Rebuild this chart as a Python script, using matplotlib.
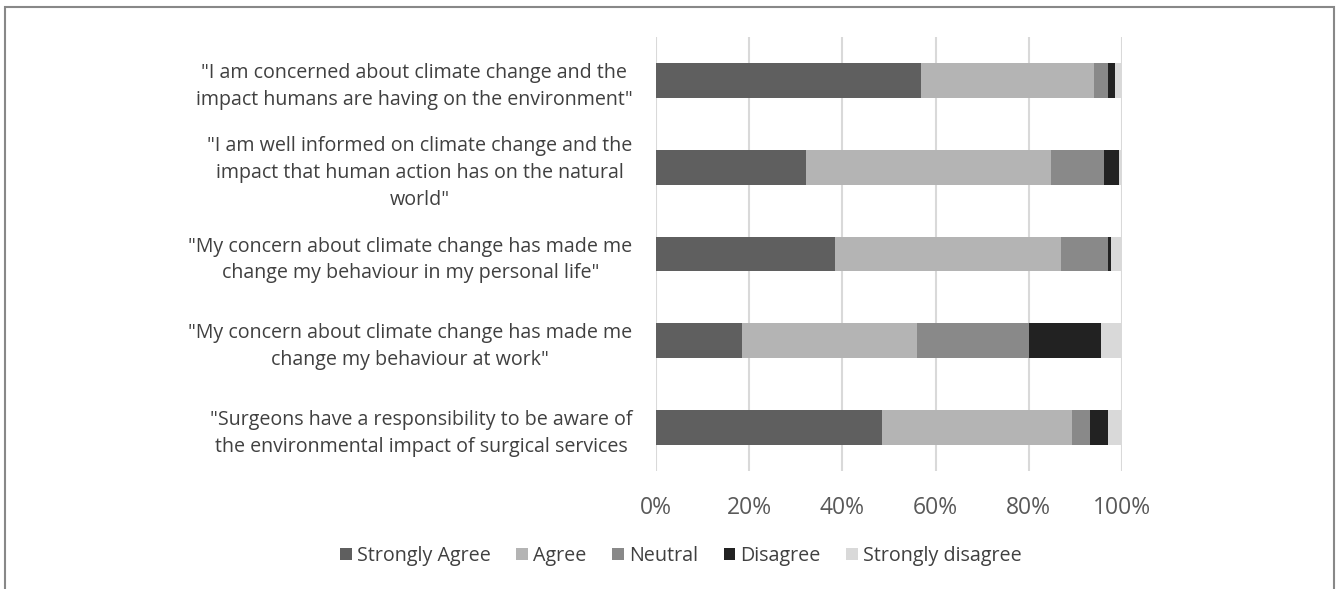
import matplotlib.pyplot as plt
import numpy as np
from matplotlib.patches import Rectangle

plt.rcParams["font.family"] = ["Open Sans", "DejaVu Sans"]

# Statements, top to bottom
STATEMENTS = [
    "\"I am concerned about climate change and the\nimpact humans are having on the environment\"",
    "\"I am well informed on climate change and the\nimpact that human action has on the natural\nworld\"",
    "\"My concern about climate change has made me\nchange my behaviour in my personal life\"",
    "\"My concern about climate change has made me\nchange my behaviour at work\"",
    "\"Surgeons have a responsibility to be aware of\nthe environmental impact of surgical services",
]

RESPONSES = ["Strongly Agree", "Agree", "Neutral", "Disagree", "Strongly disagree"]
COLORS = ["#5f5f5f", "#b4b4b4", "#898989", "#222222", "#d9d9d9"]

# percentages per statement
strongly_agree = [56.9, 32.2, 38.4, 18.4, 48.4]
agree = [37.0, 52.5, 48.6, 37.7, 40.9]
neutral = [3.1, 11.5, 10.0, 23.9, 3.8]
disagree = [1.5, 3.2, 0.7, 15.4, 3.9]
strongly_disagree = [1.5, 0.6, 2.3, 4.6, 3.0]

series = [strongly_agree, agree, neutral, disagree, strongly_disagree]

fig = plt.figure(figsize=(13.36, 5.89), dpi=100)
ax = fig.add_axes([0.491, 0.2003, 0.3488, 0.7367])

y = np.arange(len(STATEMENTS))
left = np.zeros(len(STATEMENTS))
for name, vals, color in zip(RESPONSES, series, COLORS):
    vals = np.array(vals)
    ax.barh(y, vals, left=left, height=0.4, color=color, label=name, zorder=3)
    left += vals

ax.set_xlim(0, 100)
ax.set_ylim(4.5, -0.5)
ax.set_xticks([0, 20, 40, 60, 80, 100])
ax.set_xticklabels(["0%", "20%", "40%", "60%", "80%", "100%"], fontsize=16.5, color="#595959")
ax.set_yticks(y)
ax.set_yticklabels(STATEMENTS, fontsize=14.1, color="#404040", linespacing=1.45)
for lbl in ax.get_yticklabels():
    lbl.set_multialignment("center")
ax.tick_params(axis="both", length=0)
ax.tick_params(axis="x", pad=18)
ax.tick_params(axis="y", pad=17)
for s in ax.spines.values():
    s.set_visible(False)
ax.grid(axis="x", color="#d9d9d9", linewidth=1.5, zorder=0)

handles, labels = ax.get_legend_handles_labels()
fig.legend(handles, labels, loc="center", bbox_to_anchor=(681 / 1336, 1 - 556 / 589),
           ncol=5, frameon=False, fontsize=14.2, handlelength=0.6, handleheight=0.6,
           handletextpad=0.25, columnspacing=1.3, labelcolor="#404040")

# outer frame of the original figure
fig.patches.append(Rectangle((5 / 1336, -0.2), 1329 / 1336, 1.2 - 7 / 589,
                             transform=fig.transFigure, fill=False,
                             edgecolor="#888888", linewidth=1.5))

fig.savefig("out.png", dpi=100)
